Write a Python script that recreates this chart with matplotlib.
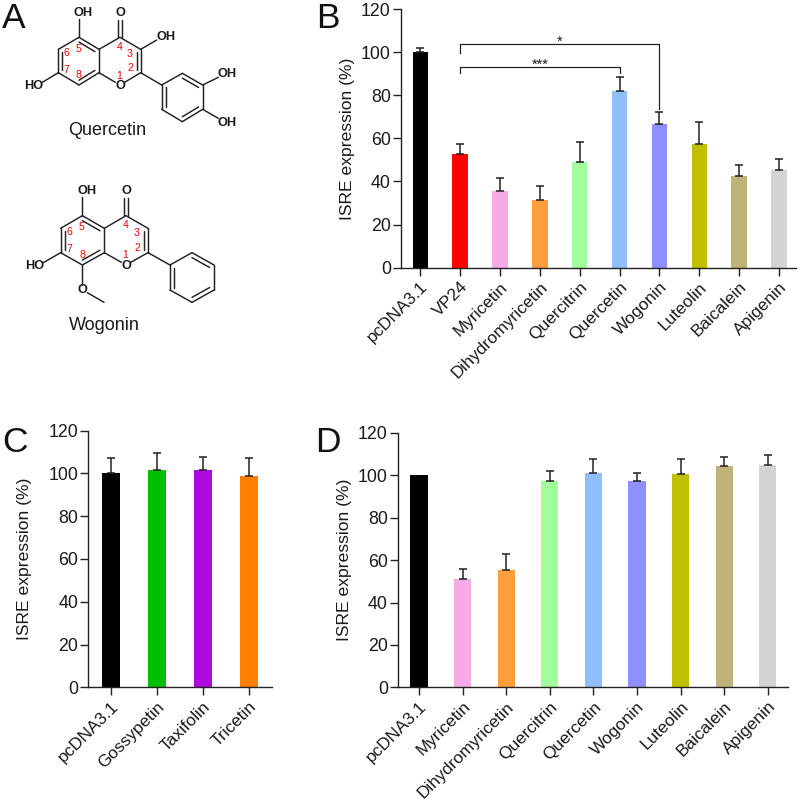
# -*- coding: utf-8 -*-
# four panel figure: two structures + three bar charts
import matplotlib
matplotlib.use('Agg')
import matplotlib.pyplot as plt
from matplotlib.transforms import ScaledTranslation
import numpy as np

plt.rcParams['font.family'] = ['Liberation Sans', 'DejaVu Sans']

#%% data
labels_b = ['pcDNA3.1', 'VP24', 'Myricetin', 'Dihydromyricetin', 'Quercitrin', 'Quercetin', 'Wogonin', 'Luteolin', 'Baicalein', 'Apigenin']
means_b = [100, 52.7, 35.6, 31.4, 49, 82.1, 66.8, 57.5, 42.5, 45.3]
errs_b = [2, 4.5, 5.8, 6.6, 9.3, 6.4, 5.4, 10.2, 5.3, 5.3]
colors_b = ['#000000', '#FF0000', '#F7AAE6', '#FF9E3D', '#A3FF9E', '#90BEFA', '#8F8FFF', '#C0C000', '#BEB47A', '#D3D3D3']

labels_c = ['pcDNA3.1', 'Gossypetin', 'Taxifolin', 'Tricetin']
means_c = [100, 101.8, 101.6, 99]
errs_c = [7.4, 7.8, 6.2, 8.2]
colors_c = ['#000000', '#00BF00', '#AA0ADF', '#FF8000']

labels_d = ['pcDNA3.1', 'Myricetin', 'Dihydromyricetin', 'Quercitrin', 'Quercetin', 'Wogonin', 'Luteolin', 'Baicalein', 'Apigenin']
means_d = [100, 51, 55.5, 97.5, 101, 97.4, 100.5, 104.4, 104.9]
errs_d = [0, 4.7, 7.3, 4.5, 6.9, 3.7, 7.4, 4.4, 4.7]
colors_d = ['#000000', '#F7AAE6', '#FF9E3D', '#A3FF9E', '#90BEFA', '#8F8FFF', '#C0C000', '#BEB47A', '#D3D3D3']

yticks = [0, 20, 40, 60, 80, 100, 120]
ylabel = 'ISRE expression (%)'

# significance brackets in panel B: start bar, end bar, height, left drop, right drop, stars
brackets_b = [(1, 5, 93.2, 90.5, 90.5, '***'), (1, 6, 103.8, 99.7, 73.4, '*')]

AXCOL = '#222222'
fig = plt.figure(figsize=(8, 8), dpi=100)


def panel(left, right, y120, y0, first, spacing, barw, labels, means, errs, colors, capsize, ylab_x):
    # everything given in pixels of the 800x800 figure
    ax = fig.add_axes([left/800, 1-y0/800, (right-left)/800, (y0-y120)/800])
    x = np.arange(len(labels))
    ax.bar(x, means, width=barw/spacing, color=colors, linewidth=0, zorder=2)
    for i in x:
        if errs[i] > 0:
            ax.errorbar(i, means[i], yerr=[[0], [errs[i]]], fmt='none', ecolor=AXCOL, elinewidth=1.1, capsize=capsize, capthick=1.1, zorder=3)
    ax.set_xlim((left-first)/spacing, (right-first)/spacing)
    ax.set_ylim(0, 120)
    ax.set_yticks(yticks)
    ax.set_xticks(x)
    ax.set_xticklabels(labels, rotation=45, ha='right', va='top', rotation_mode='anchor', fontsize=12.4, color='#1a1a1a')
    # labels sit a little left of the tick in the original
    for t in ax.get_xticklabels():
        t.set_transform(t.get_transform()+ScaledTranslation(-3/100, 0, fig.dpi_scale_trans))
    ax.tick_params(axis='y', length=5.8, width=1, color=AXCOL, labelsize=12.8, labelcolor='#1a1a1a', pad=1.5)
    ax.tick_params(axis='x', length=5.8, width=1, color=AXCOL, pad=2.5)
    for s in ['top', 'right']:
        ax.spines[s].set_visible(False)
    for s in ['left', 'bottom']:
        ax.spines[s].set_linewidth(1)
        ax.spines[s].set_color(AXCOL)
    ax.set_ylabel(ylabel, fontsize=12.6, color='#1a1a1a')
    ax.yaxis.set_label_coords((ylab_x-left)/(right-left), 0.5)
    return ax


ax_b = panel(401, 796, 9, 267.7, 420.3, 39.86, 15.5, labels_b, means_b, errs_b, colors_b, 2.9, 355)
ax_c = panel(88.3, 271.7, 430.7, 687.3, 111, 46, 18, labels_c, means_c, errs_c, colors_c, 3.1, 32)
ax_d = panel(398, 788.3, 433, 687.3, 419, 43.6, 17.3, labels_d, means_d, errs_d, colors_d, 3.1, 352.5)

for x0, x1, h, dl, dr, stars in brackets_b:
    ax_b.plot([x0, x0, x1, x1], [dl, h, h, dr], color=AXCOL, lw=0.9, zorder=4)
    ax_b.text((x0+x1)/2, h-2.2, stars, ha='center', va='bottom', fontsize=10.5, color='#1a1a1a')

#%% overlay in pixels for the structures and panel letters
ov = fig.add_axes([0, 0, 1, 1])
ov.set_xlim(0, 800)
ov.set_ylim(800, 0)
ov.axis('off')
ov.patch.set_alpha(0)

Q = dict(c5=(237, 112), c4a=(297, 148), c8a=(297, 218), c8=(237, 255), c7=(175, 218), c6=(175, 148),
         c4=(360, 112), c3=(422, 148), c2=(422, 218), o1=(360, 255),
         b1=(485, 255), b2=(547, 220), b3=(608, 255), b4=(608, 328), b5=(547, 365), b6=(485, 328))
W = dict(c5=(247, 137), c4a=(313, 175), c8a=(313, 248), c8=(247, 285), c7=(182, 248), c6=(182, 175),
         c4=(378, 137), c3=(444, 175), c2=(444, 248), o1=(378, 285),
         b1=(510, 285), b2=(576, 248), b3=(642, 285), b4=(642, 360), b5=(576, 397), b6=(510, 360))


def bond(p, q, dy=0):
    ov.plot([p[0]/3, q[0]/3], [(p[1]+dy)/3, (q[1]+dy)/3], color='#222222', lw=1.05, solid_capstyle='round')


def inner(p, q, centre, dy=0):
    # second line of a double bond, pulled towards the ring centre
    p, q, centre = np.array(p, float), np.array(q, float), np.array(centre, float)
    a = p+(centre-p)*0.2
    b = q+(centre-q)*0.2
    bond(a, b, dy)


def skeleton(m, dy=0):
    a_ring = ['c5', 'c4a', 'c8a', 'c8', 'c7', 'c6']
    b_ring = ['b1', 'b2', 'b3', 'b4', 'b5', 'b6']
    for ring in (a_ring, b_ring):
        for i in range(6):
            bond(m[ring[i]], m[ring[(i+1) % 6]], dy)
    ca = np.mean([m[k] for k in a_ring], axis=0)
    cb = np.mean([m[k] for k in b_ring], axis=0)
    cc = np.mean([m[k] for k in ['c4a', 'c4', 'c3', 'c2', 'o1', 'c8a']], axis=0)
    bond(m['c4a'], m['c4'], dy)
    bond(m['c4'], m['c3'], dy)
    bond(m['c3'], m['c2'], dy)
    bond(m['c8a'], (m['o1'][0]-14, m['o1'][1]-8), dy)
    bond((m['o1'][0]+14, m['o1'][1]-8), m['c2'], dy)
    bond(m['c2'], m['b1'], dy)
    inner(m['c5'], m['c4a'], ca, dy)
    inner(m['c6'], m['c7'], ca, dy)
    inner(m['c8'], m['c8a'], ca, dy)
    inner(m['c3'], m['c2'], cc, dy)
    inner(m['b1'], m['b6'], cb, dy)
    inner(m['b5'], m['b4'], cb, dy)
    inner(m['b2'], m['b3'], cb, dy)
    # carbonyl
    x, y = m['c4']
    bond((x-5, y), (x-5, y-52), dy)
    bond((x+5, y), (x+5, y-52), dy)


def atom(x, y, s):
    ov.text(x/3, y/3, s, ha='center', va='center', fontsize=9.2, fontweight='bold', color='#1a1a1a')


def nums(items, dy=0):
    for n, x, y in items:
        ov.text(x/3, (y+dy)/3, n, ha='center', va='center', fontsize=7.6, color='#FF0000')


# quercetin
skeleton(Q)
bond((237, 112), (237, 57))
bond((422, 148), (470, 120))
bond((175, 218), (127, 247))
bond((608, 255), (655, 232))
bond((608, 328), (655, 355))
atom(248, 40, 'OH')
atom(360, 40, 'O')
atom(497, 112, 'OH')
atom(100, 258, 'HO')
atom(360, 258, 'O')
atom(682, 222, 'OH')
atom(682, 368, 'OH')
nums([('6', 200, 160), ('5', 236, 148), ('7', 198, 210), ('8', 236, 226), ('4', 360, 142), ('3', 390, 162), ('2', 390, 205), ('1', 358, 228)])
ov.text(322/3, 392/3, 'Quercetin', ha='center', va='center', fontsize=13, color='#1a1a1a')

# wogonin, crop started at y=170
DY = 510
skeleton(W, DY)
bond((247, 137), (247, 80), DY)
bond((182, 248), (130, 278), DY)
bond((247, 285), (247, 345), DY)
bond((262, 368), (312, 397), DY)
atom(260, 63+DY, 'OH')
atom(378, 63+DY, 'O')
atom(103, 287+DY, 'HO')
atom(378, 288+DY, 'O')
atom(247, 360+DY, 'O')
nums([('6', 208, 185), ('5', 246, 172), ('7', 207, 237), ('8', 248, 254), ('4', 377, 165), ('3', 411, 190), ('2', 411, 233), ('1', 375, 255)], DY)
ov.text(312/3, (467+DY)/3, 'Wogonin', ha='center', va='center', fontsize=13, color='#1a1a1a')

# panel letters
for s, x, y in [('A', 2, 28), ('B', 316, 28), ('C', 2, 452), ('D', 315, 452)]:
    ov.text(x, y, s, ha='left', va='baseline', fontsize=25.5, color='#111111')

fig.savefig('out.png', dpi=100)
